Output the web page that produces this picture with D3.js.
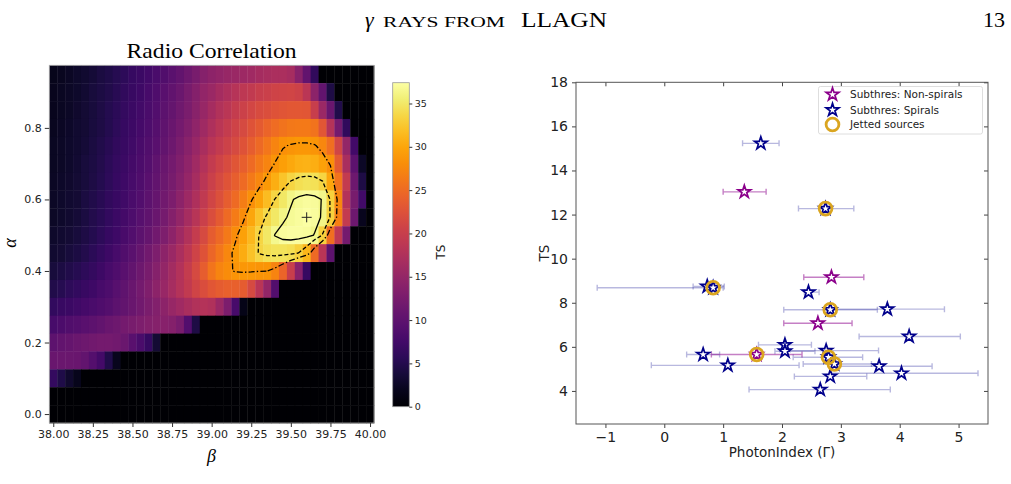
<!DOCTYPE html>
<html>
<head>
<meta charset="utf-8">
<script src="https://cdn.jsdelivr.net/npm/d3@7"></script>
<style>
  body { margin: 0; background: #fff; }
  svg { display: block; }
</style>
</head>
<body>
<svg id="fig" width="1011" height="484"></svg>
<script>
// ---- left panel: TS grid (rows alpha 0.95 -> 0.00, columns beta 38.00 -> 40.00) ----
const betaGrid = [38.00, 38.05, 38.10, 38.15, 38.20, 38.25, 38.30, 38.35, 38.40, 38.45,
  38.50, 38.55, 38.60, 38.65, 38.70, 38.75, 38.80, 38.85, 38.90, 38.95,
  39.00, 39.05, 39.10, 39.15, 39.20, 39.25, 39.30, 39.35, 39.40, 39.45,
  39.50, 39.55, 39.60, 39.65, 39.70, 39.75, 39.80, 39.85, 39.90, 39.95, 40.00];
const alphaGrid = [0.95, 0.90, 0.85, 0.80, 0.75, 0.70, 0.65, 0.60, 0.55, 0.50,
  0.45, 0.40, 0.35, 0.30, 0.25, 0.20, 0.15, 0.10, 0.05, 0.00];
const tsRows = [
  [1.8, 2.1, 2.4, 2.8, 3.2, 3.6, 4.1, 4.6, 5.2, 5.8, 6.5, 7.0, 7.5, 8.2, 8.9, 9.7, 10.5, 11.5, 12.5, 13.6,
   14.4, 14.9, 15.3, 15.6, 15.9, 16.2, 16.6, 16.9, 17.1, 17.2, 16.8, 14.0, 10.5, 6.0, 0, 0, 0, 0, 0, 0, 0],
  [1.9, 2.2, 2.5, 2.9, 3.3, 3.8, 4.3, 4.8, 5.4, 6.0, 6.7, 7.3, 7.9, 8.7, 9.5, 10.3, 11.2, 12.3, 13.5, 14.8,
   15.6, 16.6, 17.5, 18.2, 18.9, 19.4, 19.9, 20.3, 20.6, 20.8, 20.9, 20.5, 18.6, 14.2, 10.4, 4.5, 0, 0, 0, 0, 0],
  [2.0, 2.3, 2.6, 3.0, 3.4, 3.9, 4.4, 5.0, 5.6, 6.3, 6.9, 7.5, 8.2, 9.0, 9.8, 10.6, 11.6, 12.7, 14.0, 15.3,
   16.6, 17.7, 18.7, 19.6, 20.4, 21.1, 21.7, 22.2, 22.6, 22.9, 23.1, 23.2, 23.0, 20.0, 15.5, 11.0, 4.8, 0, 0, 0, 0],
  [2.1, 2.4, 2.7, 3.1, 3.5, 4.0, 4.5, 5.1, 5.8, 6.5, 7.1, 7.8, 8.5, 9.3, 10.1, 11.0, 12.0, 13.2, 14.6, 16.0,
   17.5, 18.6, 19.6, 20.6, 21.6, 22.6, 23.5, 24.4, 25.2, 25.8, 26.2, 26.4, 26.3, 25.8, 23.0, 18.0, 12.0, 6.0, 0, 0, 0],
  [2.2, 2.5, 2.8, 3.2, 3.6, 4.1, 4.7, 5.3, 6.0, 6.7, 7.4, 8.1, 8.8, 9.6, 10.5, 11.5, 12.6, 13.9, 15.4, 17.0,
   18.5, 19.5, 20.5, 21.5, 22.6, 23.7, 24.9, 26.1, 27.2, 28.2, 28.6, 28.8, 28.8, 28.6, 27.6, 25.5, 21.0, 15.0, 7.5, 0, 0],
  [2.3, 2.6, 2.9, 3.3, 3.8, 4.3, 4.9, 5.6, 6.3, 7.0, 7.7, 8.4, 9.2, 10.1, 11.0, 12.0, 13.2, 14.6, 16.2, 17.9,
   19.5, 20.6, 21.7, 22.8, 23.9, 25.0, 26.2, 27.3, 28.5, 29.4, 30.2, 30.7, 30.9, 30.6, 29.6, 28.2, 23.5, 17.0, 10.0, 2.5, 0],
  [2.4, 2.7, 3.0, 3.4, 3.9, 4.5, 5.1, 5.8, 6.5, 7.2, 7.9, 8.7, 9.5, 10.4, 11.3, 12.3, 13.6, 15.1, 16.8, 18.6,
   20.3, 21.5, 22.7, 23.9, 25.1, 26.3, 27.6, 29.0, 30.6, 32.2, 33.5, 34.2, 34.5, 34.4, 33.5, 30.0, 26.0, 19.5, 11.5, 4.5, 0],
  [2.5, 2.8, 3.1, 3.5, 4.1, 4.7, 5.3, 6.0, 6.7, 7.4, 8.2, 9.0, 9.8, 10.7, 11.7, 12.8, 14.2, 15.8, 17.5, 19.2,
   21.0, 22.3, 23.7, 25.1, 26.6, 28.2, 29.8, 31.6, 33.5, 35.0, 36.2, 36.8, 37.1, 36.9, 36.3, 33.2, 27.5, 18.0, 12.5, 7.5, 0],
  [2.6, 2.9, 3.2, 3.6, 4.2, 4.9, 5.5, 6.2, 6.9, 7.7, 8.6, 9.4, 10.2, 11.1, 12.2, 13.5, 15.0, 16.7, 18.4, 20.2,
   22.0, 23.5, 25.0, 26.5, 28.0, 30.0, 32.2, 33.8, 35.0, 36.1, 36.7, 37.1, 37.4, 37.0, 36.2, 33.2, 27.0, 19.5, 11.5, 2.0, 0],
  [2.8, 3.1, 3.4, 3.8, 4.4, 5.1, 5.8, 6.5, 7.3, 8.1, 9.0, 9.9, 10.8, 11.8, 13.0, 14.4, 16.0, 17.8, 19.7, 21.6,
   23.6, 24.9, 26.4, 28.0, 29.6, 31.4, 33.5, 35.0, 36.5, 37.0, 37.2, 37.2, 37.0, 36.3, 33.2, 25.5, 19.0, 12.0, 0, 0, 0],
  [3.2, 3.5, 3.9, 4.3, 4.9, 5.6, 6.3, 7.1, 7.9, 8.8, 9.7, 10.7, 11.7, 12.9, 14.2, 15.6, 17.1, 18.8, 20.6, 22.6,
   24.6, 26.1, 27.6, 29.0, 30.5, 32.0, 33.6, 34.2, 34.5, 34.5, 34.2, 33.3, 31.2, 25.0, 18.5, 10.0, 0, 0, 0, 0, 0],
  [3.9, 4.3, 4.7, 5.2, 5.8, 6.4, 7.1, 7.9, 8.7, 9.6, 10.5, 11.5, 12.5, 13.7, 15.0, 16.4, 17.9, 19.6, 21.6, 23.8,
   26.0, 27.2, 28.0, 28.6, 28.8, 28.8, 28.6, 28.5, 27.2, 24.5, 20.0, 14.0, 6.5, 0, 0, 0, 0, 0, 0, 0, 0],
  [4.8, 5.2, 5.7, 6.2, 6.7, 7.2, 7.9, 8.6, 9.4, 10.2, 11.1, 12.1, 13.1, 14.2, 15.4, 16.7, 18.0, 19.4, 20.8, 22.0,
   23.0, 23.6, 24.0, 24.0, 23.6, 21.5, 18.5, 15.0, 9.0, 0, 0, 0, 0, 0, 0, 0, 0, 0, 0, 0, 0],
  [6.2, 6.6, 7.0, 7.4, 7.8, 8.2, 8.7, 9.2, 9.8, 10.4, 11.1, 11.8, 12.6, 13.4, 14.3, 15.2, 16.1, 17.0, 17.7, 18.0,
   17.6, 15.5, 12.8, 8.0, 1.5, 0, 0, 0, 0, 0, 0, 0, 0, 0, 0, 0, 0, 0, 0, 0, 0],
  [8.0, 8.4, 8.8, 9.2, 9.6, 10.0, 10.5, 11.0, 11.5, 12.0, 12.5, 13.0, 13.4, 13.7, 13.8, 13.5, 12.5, 9.0, 4.5, 0,
   0, 0, 0, 0, 0, 0, 0, 0, 0, 0, 0, 0, 0, 0, 0, 0, 0, 0, 0, 0, 0],
  [10.0, 10.4, 10.8, 11.2, 11.5, 11.8, 12.0, 12.0, 11.8, 11.2, 9.6, 8.2, 6.5, 3.5, 0, 0, 0, 0, 0, 0,
   0, 0, 0, 0, 0, 0, 0, 0, 0, 0, 0, 0, 0, 0, 0, 0, 0, 0, 0, 0, 0],
  [11.0, 11.2, 11.2, 11.0, 10.4, 9.2, 7.6, 4.8, 1.9, 0, 0, 0, 0, 0, 0, 0, 0, 0, 0, 0,
   0, 0, 0, 0, 0, 0, 0, 0, 0, 0, 0, 0, 0, 0, 0, 0, 0, 0, 0, 0, 0],
  [6.4, 4.6, 3.0, 1.8, 0, 0, 0, 0, 0, 0, 0, 0, 0, 0, 0, 0, 0, 0, 0, 0,
   0, 0, 0, 0, 0, 0, 0, 0, 0, 0, 0, 0, 0, 0, 0, 0, 0, 0, 0, 0, 0],
  [0, 0, 0, 0, 0, 0, 0, 0, 0, 0, 0, 0, 0, 0, 0, 0, 0, 0, 0, 0,
   0, 0, 0, 0, 0, 0, 0, 0, 0, 0, 0, 0, 0, 0, 0, 0, 0, 0, 0, 0, 0],
  [0, 0, 0, 0, 0, 0, 0, 0, 0, 0, 0, 0, 0, 0, 0, 0, 0, 0, 0, 0,
   0, 0, 0, 0, 0, 0, 0, 0, 0, 0, 0, 0, 0, 0, 0, 0, 0, 0, 0, 0, 0]
];
const contourLevels = [28.4, 33.4, 36.4];   // dash-dot, dashed, solid
const bestFit = [39.60, 0.55];
const betaTicks = [38.00, 38.25, 38.50, 38.75, 39.00, 39.25, 39.50, 39.75, 40.00];
const alphaTicks = [0.0, 0.2, 0.4, 0.6, 0.8];
const cbarTicks = [0, 5, 10, 15, 20, 25, 30, 35];

// ---- right panel: TS vs photon index ----
const nonSpiralGamma = [1.36, 2.84, 2.61, 1.57];
const nonSpiralTS    = [13.03, 9.16, 7.07, 5.65];
const nonSpiralLo    = [1.00, 2.37, 2.03, 0.80];
const nonSpiralHi    = [1.73, 3.39, 3.19, 2.34];

const spiralGamma = [1.64, 2.74, 0.73, 0.83, 2.45, 2.82, 3.79, 4.16, 2.05, 2.05,
  2.75, 0.66, 2.79, 2.89, 1.08, 3.65, 4.03, 2.82, 2.65];
const spiralTS = [15.23, 12.27, 8.74, 8.68, 8.48, 7.68, 7.71, 6.47, 6.09, 5.80,
  5.83, 5.65, 5.53, 5.22, 5.16, 5.12, 4.80, 4.66, 4.06];
const spiralLo = [1.33, 2.28, 0.49, -1.14, 2.38, 2.03, 2.85, 3.31, 1.60, 1.88,
  2.05, 0.38, 2.19, 2.36, -0.22, 2.95, 2.82, 2.21, 1.44];
const spiralHi = [1.95, 3.22, 1.02, 1.00, 2.63, 3.62, 4.76, 5.03, 2.50, 2.56,
  3.64, 0.94, 3.37, 3.52, 2.29, 4.55, 5.33, 3.44, 3.84];

const jettedGamma = [2.74, 0.83, 2.82, 1.57, 2.79, 2.89];
const jettedTS    = [12.27, 8.68, 7.68, 5.65, 5.53, 5.22];

const gammaTicks = [-1, 0, 1, 2, 3, 4, 5];
const tsTicks = [4, 6, 8, 10, 12, 14, 16, 18];
const legendLabels = ["Subthres: Non-spirals", "Subthres: Spirals", "Jetted sources"];

const SANS = "'DejaVu Sans', sans-serif";
const SERIF = "'Liberation Serif', 'DejaVu Serif', serif";

const svg = d3.select("#fig");
svg.append("rect").attr("width", 1011).attr("height", 484).attr("fill", "#fff");

// ---- running head ----
svg.append("text").attr("x", 365).attr("y", 27)
  .attr("font-family", SERIF).attr("font-size", 22).attr("font-style", "italic")
  .text("γ");
svg.append("text").attr("x", 383).attr("y", 27)
  .attr("font-family", SERIF).attr("font-size", 15.5)
  .attr("textLength", 122).attr("lengthAdjust", "spacingAndGlyphs")
  .text("RAYS FROM");
svg.append("text").attr("x", 521).attr("y", 27)
  .attr("font-family", SERIF).attr("font-size", 22)
  .attr("textLength", 86).attr("lengthAdjust", "spacingAndGlyphs")
  .text("LLAGN");
svg.append("text").attr("x", 1005).attr("y", 27).attr("text-anchor", "end")
  .attr("font-family", SERIF).attr("font-size", 22).text("13");

// ================= left: heatmap =================
const hx = d3.scaleLinear().domain([37.975, 40.025]).range([49.3, 374]);
const hy = d3.scaleLinear().domain([-0.025, 0.975]).range([423, 65.3]);
const vmax = d3.max(tsRows.flat());
const color = d3.scaleSequential(d3.interpolateInferno).domain([0, vmax]);
const dB = (betaGrid[1] - betaGrid[0]) / 2;
const dA = (alphaGrid[0] - alphaGrid[1]) / 2;

const cells = [];
tsRows.forEach((row, i) => row.forEach((v, j) => cells.push({b: betaGrid[j], a: alphaGrid[i], v: v})));

const left = svg.append("g");
left.selectAll("rect.cell").data(cells).join("rect")
  .attr("class", "cell")
  .attr("x", d => hx(d.b - dB))
  .attr("y", d => hy(d.a + dA))
  .attr("width", d => hx(d.b + dB) - hx(d.b - dB) + 0.4)
  .attr("height", d => hy(d.a - dA) - hy(d.a + dA) + 0.4)
  .attr("fill", d => color(d.v));

// contours (d3 puts sample i at coordinate i + 0.5)
const contours = d3.contours()
  .size([betaGrid.length, alphaGrid.length])
  .thresholds(contourLevels)(tsRows.flat());
const gridToPx = d3.geoTransform({
  point: function(x, y) {
    const b = betaGrid[0] + (x - 0.5) * (betaGrid[1] - betaGrid[0]);
    const a = alphaGrid[0] + (y - 0.5) * (alphaGrid[1] - alphaGrid[0]);
    this.stream.point(hx(b), hy(a));
  }
});
const dashes = ["6,2.2,1.4,2.2", "4,2.2", null];
left.selectAll("path.ctr").data(contours).join("path")
  .attr("class", "ctr")
  .attr("d", d3.geoPath(gridToPx))
  .attr("fill", "none")
  .attr("stroke", "#000")
  .attr("stroke-width", 1.3)
  .attr("stroke-dasharray", (d, i) => dashes[i]);

// best-fit cross
const bx = hx(bestFit[0]), by = hy(bestFit[1]);
left.append("path")
  .attr("d", `M${bx - 5},${by}h10M${bx},${by - 5}v10`)
  .attr("stroke", "#222").attr("stroke-width", 1);

left.append("rect")
  .attr("x", 49.3).attr("y", 65.3).attr("width", 374 - 49.3).attr("height", 423 - 65.3)
  .attr("fill", "none").attr("stroke", "#aaa").attr("stroke-width", 0.8);

const lxAxis = left.append("g").attr("transform", "translate(0,423)")
  .call(d3.axisBottom(hx).tickValues(betaTicks).tickFormat(d3.format(".2f")).tickSize(4).tickPadding(3));
const lyAxis = left.append("g").attr("transform", "translate(49.3,0)")
  .call(d3.axisLeft(hy).tickValues(alphaTicks).tickFormat(d3.format(".1f")).tickSize(4.5).tickPadding(3));
[lxAxis, lyAxis].forEach(g => {
  g.select(".domain").remove();
  g.selectAll("line").attr("stroke", "#333");
  g.selectAll("text").attr("font-family", SANS).attr("font-size", 11).attr("fill", "#222");
});

left.append("text").attr("x", 211.6).attr("y", 58).attr("text-anchor", "middle")
  .attr("font-family", SERIF).attr("font-size", 21)
  .attr("textLength", 170).attr("lengthAdjust", "spacingAndGlyphs")
  .text("Radio Correlation");
left.append("text").attr("x", 211.6).attr("y", 462).attr("text-anchor", "middle")
  .attr("font-family", SERIF).attr("font-style", "italic").attr("font-size", 18)
  .text("β");
left.append("text").attr("transform", "translate(16,243) rotate(-90)").attr("text-anchor", "middle")
  .attr("font-family", SERIF).attr("font-style", "italic").attr("font-size", 18)
  .text("α");

// colorbar
const cbY = d3.scaleLinear().domain([0, vmax]).range([406.7, 82.7]);
const grad = svg.append("defs").append("linearGradient").attr("id", "cbgrad")
  .attr("x1", 0).attr("y1", 1).attr("x2", 0).attr("y2", 0);
grad.selectAll("stop").data(d3.range(0, 1.0001, 0.05)).join("stop")
  .attr("offset", d => d)
  .attr("stop-color", d => d3.interpolateInferno(d));
svg.append("rect").attr("x", 392.7).attr("y", 82.7).attr("width", 16.6).attr("height", 324)
  .attr("fill", "url(#cbgrad)").attr("stroke", "#999").attr("stroke-width", 0.8);
const cbAxis = svg.append("g").attr("transform", "translate(409.3,0)")
  .call(d3.axisRight(cbY).tickValues(cbarTicks).tickSize(3).tickPadding(2.5));
cbAxis.select(".domain").remove();
cbAxis.selectAll("line").attr("stroke", "#333");
cbAxis.selectAll("text").attr("font-family", SANS).attr("font-size", 9.5).attr("fill", "#222");
svg.append("text").attr("transform", "translate(445,252) rotate(-90)").attr("text-anchor", "middle")
  .attr("font-family", SANS).attr("font-size", 12).attr("fill", "#222").text("TS");

// ================= right: scatter =================
const sx = d3.scaleLinear().domain([-1.5, 5.5]).range([576, 988]);
const sy = d3.scaleLinear().domain([2.5, 18]).range([424, 82.3]);
const right = svg.append("g");

const rxAxis = right.append("g").attr("transform", "translate(0,424)")
  .call(d3.axisBottom(sx).tickValues(gammaTicks).tickFormat(d3.format("d")).tickSize(4).tickPadding(4));
const ryAxis = right.append("g").attr("transform", "translate(576,0)")
  .call(d3.axisLeft(sy).tickValues(tsTicks).tickFormat(d3.format("d")).tickSize(4).tickPadding(4));
const rtAxis = right.append("g").attr("transform", "translate(0,82.3)")
  .call(d3.axisTop(sx).tickValues(gammaTicks).tickSize(-4).tickFormat(""));
const rrAxis = right.append("g").attr("transform", "translate(988,0)")
  .call(d3.axisRight(sy).tickValues(tsTicks).tickSize(-4).tickFormat(""));
[rxAxis, ryAxis, rtAxis, rrAxis].forEach(g => {
  g.select(".domain").remove();
  g.selectAll("line").attr("stroke", "#444");
  g.selectAll("text").attr("font-family", SANS).attr("font-size", 14).attr("fill", "#222");
});
right.append("rect").attr("x", 576).attr("y", 82.3).attr("width", 412).attr("height", 424 - 82.3)
  .attr("fill", "none").attr("stroke", "#555").attr("stroke-width", 1);

right.append("text").attr("x", 782).attr("y", 457).attr("text-anchor", "middle")
  .attr("font-family", SANS).attr("font-size", 13.5).attr("fill", "#222").text("PhotonIndex (Γ)");
right.append("text").attr("transform", "translate(549,253) rotate(-90)").attr("text-anchor", "middle")
  .attr("font-family", SANS).attr("font-size", 13.5).attr("fill", "#222").text("TS");

function errorBars(g, gam, ts, lo, hi, col) {
  const rows = gam.map((d, i) => ({g: d, t: ts[i], lo: lo[i], hi: hi[i]}));
  const eb = g.append("g").attr("stroke", col).attr("stroke-width", 1.4).attr("fill", "none");
  eb.selectAll("path").data(rows).join("path")
    .attr("d", d => {
      const y = sy(d.t), x0 = sx(d.lo), x1 = sx(d.hi);
      return `M${x0},${y}H${x1}M${x0},${y - 3}V${y + 3}M${x1},${y - 3}V${y + 3}`;
    });
}
errorBars(right, spiralGamma, spiralTS, spiralLo, spiralHi, "rgba(0,0,139,0.28)");
errorBars(right, nonSpiralGamma, nonSpiralTS, nonSpiralLo, nonSpiralHi, "rgba(139,0,139,0.5)");

const starSym = d3.symbol(d3.symbolStar, 50)();
function stars(g, gam, ts, col) {
  g.append("g").selectAll("path").data(gam.map((d, i) => [d, ts[i]])).join("path")
    .attr("d", starSym)
    .attr("transform", d => `translate(${sx(d[0])},${sy(d[1])})`)
    .attr("fill", "#fff").attr("stroke", col).attr("stroke-width", 1.7)
    .attr("stroke-linejoin", "miter");
}
stars(right, nonSpiralGamma, nonSpiralTS, "#8b008b");
stars(right, spiralGamma, spiralTS, "#00008b");

right.append("g").selectAll("circle").data(jettedGamma.map((d, i) => [d, jettedTS[i]])).join("circle")
  .attr("cx", d => sx(d[0])).attr("cy", d => sy(d[1])).attr("r", 6.4)
  .attr("fill", "none").attr("stroke", "#daa520").attr("stroke-width", 2.8);

// legend
const lg = right.append("g");
lg.append("rect").attr("x", 818.5).attr("y", 86.5).attr("width", 164).attr("height", 47.5).attr("rx", 2)
  .attr("fill", "#fff").attr("fill-opacity", 0.85).attr("stroke", "#d6d6d6").attr("stroke-width", 0.8);
const legY = [94.5, 110, 124.5];
const legEntries = legendLabels.map((t, i) => ({t: t, y: legY[i], i: i}));
lg.selectAll("g.entry").data(legEntries).join("g").attr("class", "entry")
  .each(function(d) {
    const e = d3.select(this);
    if (d.i < 2) {
      e.append("path").attr("d", starSym).attr("transform", `translate(832.5,${d.y})`)
        .attr("fill", "#fff").attr("stroke", d.i === 0 ? "#8b008b" : "#00008b").attr("stroke-width", 1.7);
    } else {
      e.append("circle").attr("cx", 832.5).attr("cy", d.y).attr("r", 6.4)
        .attr("fill", "none").attr("stroke", "#daa520").attr("stroke-width", 2.8);
    }
    e.append("text").attr("x", 850).attr("y", d.y + 3.8)
      .attr("font-family", SANS).attr("font-size", 10.5).attr("fill", "#222").text(d.t);
  });
</script>
</body>
</html>
